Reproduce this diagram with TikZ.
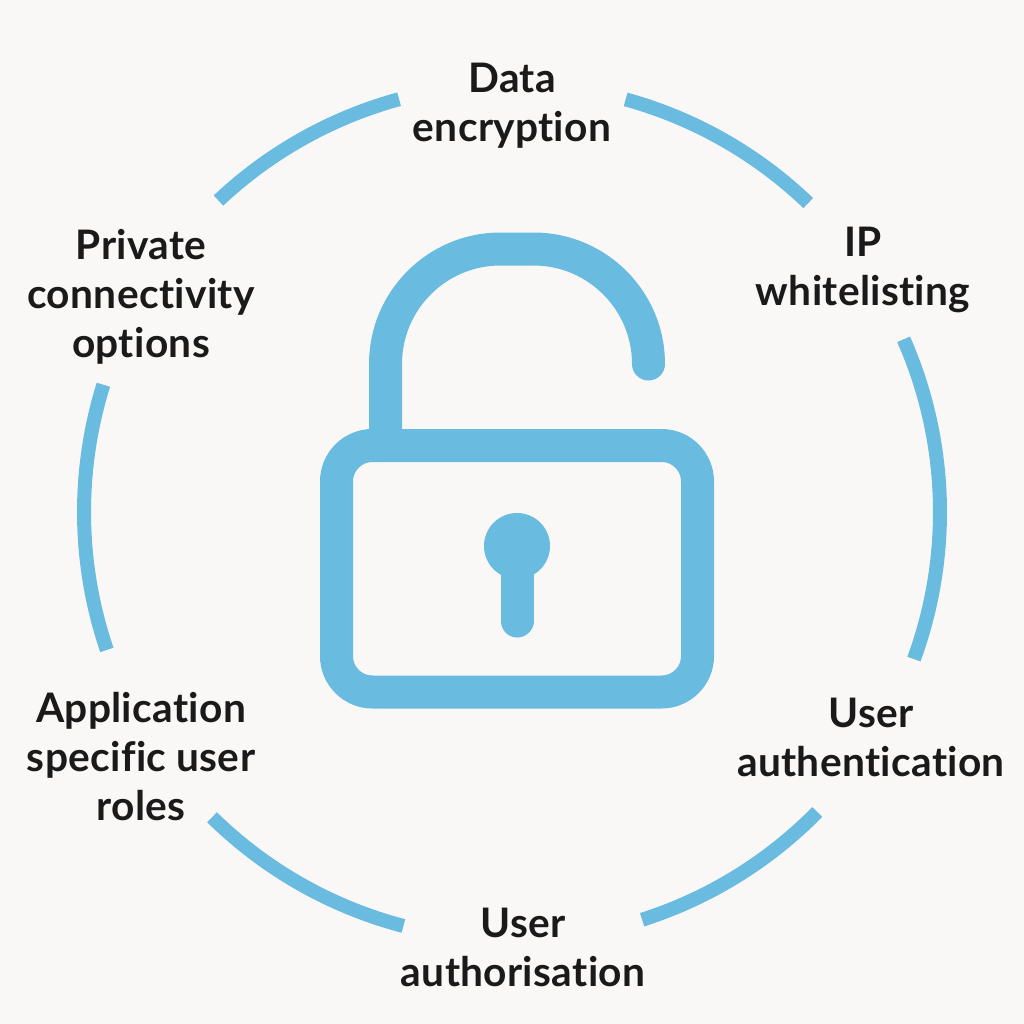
\documentclass[tikz,border=0pt]{standalone}
\usepackage{fontspec}
\setmainfont{Lato}[RawFeature={-liga},LetterSpace=0.8]
\definecolor{lockblue}{RGB}{105,187,224}
\definecolor{paper}{RGB}{250,248,246}
\definecolor{ink}{RGB}{26,26,26}
\begin{document}
\begin{tikzpicture}[x=0.75pt,y=0.75pt,yscale=-1,xscale=1,
    ring/.style={draw=lockblue,line width=10.5pt},
    lockline/.style={draw=lockblue,line width=24.75pt},
    label/.style={text=ink,align=center,inner sep=0pt,font=\fontsize{30.5}{36.75}\selectfont\bfseries}]

%Shape: Rectangle
\fill[paper] (0,0) rectangle (1024,1024);
\useasboundingbox (0,0) rectangle (1024,1024);

%Arcs of the ring
\foreach \from/\to in {-105.3/-133.3,-74.6/-46.2,-23.8/20.1,44.5/72.3,104.7/134.5,161.2/197.3}
  \draw[ring] (512,512) ++(\from:428) arc (\from:\to:428);

%Shape: Lock body
\draw[lockline,rounded corners=27pt] (336.5,445.5) rectangle (697.5,692);
%Shackle
\draw[lockline,line cap=round] (385.5,432) -- (385.5,364) arc (180:270:115) -- (533.5,249) arc (270:360:115) -- (648.5,364);
%Keyhole
\fill[lockblue] (517,546) circle (33);
\draw[lockline,line cap=round] (517,550) -- (517,621);

% Text Node
\node[label] (data) at (512,105.5) {Data\\encryption};
\node[label] (ipwhite) at (863,269.5) {IP\\whitelisting};
\node[label] (authn) at (871,737) {User\\authentication};
\node[label] (authz) at (523,947) {User\\authorisation};
\node[label] (roles) at (141,757) {Application\\specific user\\roles};
\node[label] (private) at (141,296.5) {Private\\connectivity\\options};
\end{tikzpicture}
\end{document}
